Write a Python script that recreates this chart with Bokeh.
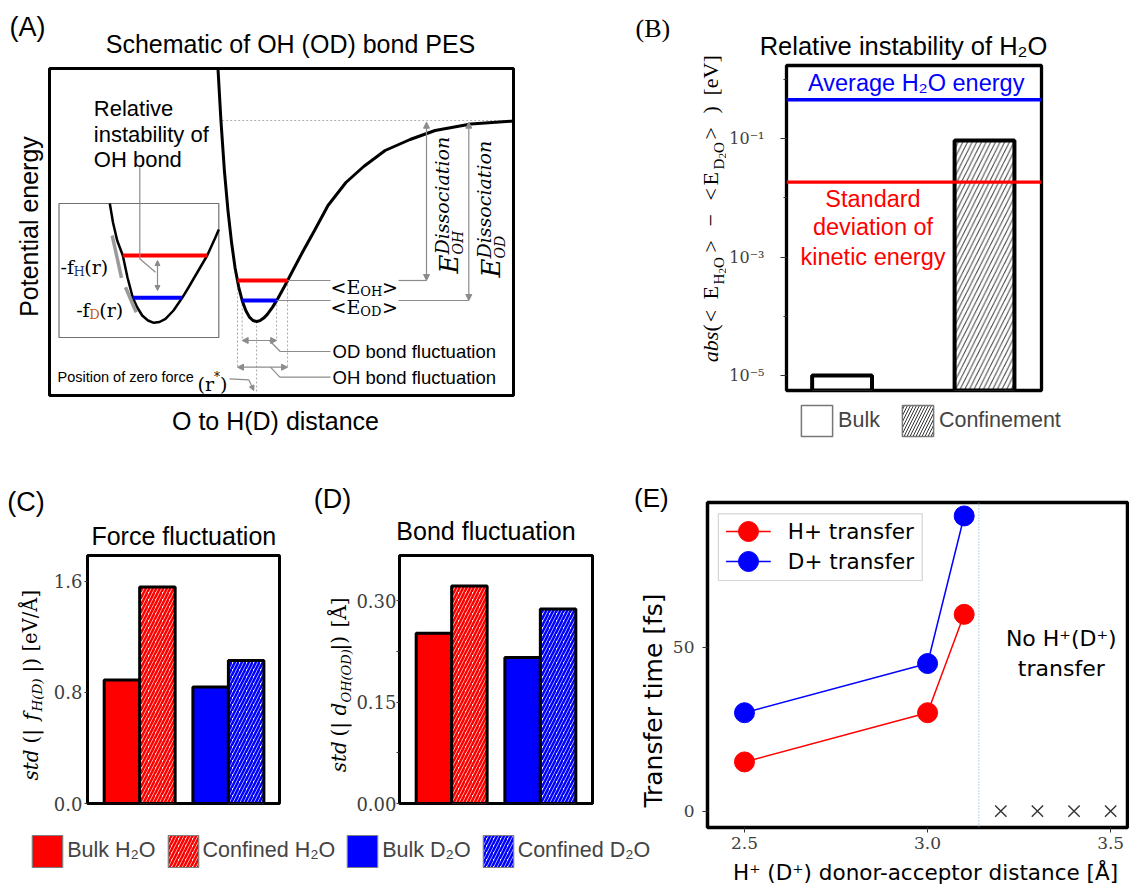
import numpy as np
from bokeh.plotting import figure
from bokeh.models import (Range1d, Label, Legend, LegendItem, Span, Arrow, NormalHead,
                          FixedTicker, ColumnDataSource, PrintfTickFormatter,
                          CustomJSTickFormatter)
from bokeh.layouts import row, column
from bokeh.embed import file_html
from bokeh.resources import INLINE
from bokeh.core.properties import value

# ====================== DATA ======================
# (A) schematic OH (OD) bond potential energy surface (arbitrary units)
pes_r = [168.5, 171.4, 174.9, 178.5, 182.1, 185.6, 189.2, 192.8, 196.4, 199.9,
         203.5, 207.1, 210.6, 214.2, 217.8, 223.1, 228.5, 235.6, 242.8, 253.5, 264.2,
         278.5, 296.4, 314.2, 335.6, 360.6, 385.6, 421.4, 464.0]
pes_E = [326.7, 275.5, 224.7, 184.7, 152.7, 127.5, 108.5, 94.5, 84.8, 78.4,
         75.0, 74.0, 74.9, 77.4, 81.1, 88.4, 97.2, 110.3, 124.0, 144.3, 163.6,
         190.0, 213.0, 229.0, 245.0, 256.0, 265.0, 271.5, 274.5]
inset_r = [60.3, 63.5, 67.7, 73.3, 78.0, 83.3, 87.5, 92.7, 98.5, 104.3, 110.0, 116.0,
           124.0, 132.7, 139.0, 146.0, 157.7, 166.0, 169.3]
inset_E = [192.0, 173.0, 155.0, 140.0, 118.0, 97.7, 88.5, 80.0, 75.0, 72.7, 73.5, 76.7,
           85.0, 97.7, 108.0, 120.0, 140.0, 158.3, 166.0]
level_E_OH = 115.0
level_E_OD = 95.0
level_dissociation = 275.0
inset_level_H = 140.0
inset_level_D = 97.7

# (B) relative instability of H2O
b_labels = ["Bulk", "Confinement"]
b_x = [0, 1]
b_values = [1.0e-5, 9.35e-2]
b_average_energy = 0.456
b_std_kinetic = 0.0185
b_ticks = [1e-5, 1e-3, 1e-1]
b_minor = [1e-4, 1e-2, 1.0]

# (C) / (D)
cd_labels = ["Bulk H\u2082O", "Confined H\u2082O", "Bulk D\u2082O", "Confined D\u2082O"]
cd_x = [0.0, 1.0, 2.5, 3.5]
force_fluct = [0.89, 1.56, 0.84, 1.03]
bond_fluct = [0.252, 0.322, 0.216, 0.288]
c_ticks = [0.0, 0.8, 1.6]
d_ticks = [0.0, 0.15, 0.30]
d_minor = [0.075, 0.225]

# (E) transfer time
e_distance = [2.5, 3.0, 3.1]
e_h_time = [15, 30, 60]
e_d_time = [30, 45, 90]
e_none_distance = [3.2, 3.3, 3.4, 3.5]
e_none_time = [0, 0, 0, 0]
e_cutoff = 3.14
e_xticks = [2.5, 3.0, 3.5]
e_yticks = [0, 50]

# ====================== STYLE / HELPERS ======================
SANS = "Liberation Sans"
SERIF = "DejaVu Serif"
TSERIF = "Liberation Serif"
DVS = "DejaVu Sans"
GRAY = "#8c8c8c"
RED = "#ff0000"
BLUE = "#0000ff"


def make_fig(w, h, l, r, t, b, xr, yr, **kw):
    p = figure(width=w, height=h, x_range=xr, y_range=yr, toolbar_location=None,
               output_backend="svg", min_border_left=l, min_border_right=r,
               min_border_top=t, min_border_bottom=b, frame_align=False, **kw)
    p.grid.visible = False
    p.outline_line_color = "black"
    p.outline_line_width = 3
    p.background_fill_color = "white"
    p.border_fill_color = "white"
    return p


def canvas(x0, y0, w, h):
    """A blank figure whose data coordinates are page pixels (y downward)."""
    p = figure(width=w, height=h, x_range=Range1d(x0, x0 + w), y_range=Range1d(y0 + h, y0),
               toolbar_location=None, output_backend="svg", min_border=0,
               x_axis_location=None, y_axis_location=None, frame_align=False)
    p.grid.visible = False
    p.outline_line_color = None
    p.background_fill_color = "white"
    p.border_fill_color = "white"
    return p


def lab(p, x, y, text, size, font=SANS, color="black", align="left",
        baseline="middle", angle=0, style="normal", units="data"):
    p.add_layout(Label(x=x, y=y, x_units=units, y_units=units, text=text, text_font=font,
                       text_font_size=f"{size}px", text_color=color, text_align=align,
                       text_baseline=baseline, angle=angle, angle_units="deg",
                       text_font_style=style))


def flab(p, fr, px, py, text, size, **kw):
    """Label inside an axis frame, given by page pixel position."""
    lab(p, px - fr[0], fr[1] - py, text, size, units="screen", **kw)


def vpieces(p, pieces, font):
    """Vertical (bottom-to-top) label made of pieces: (text, start_y, centre_x, size, style)."""
    for text, start_y, mid_x, size, style in pieces:
        lab(p, mid_x, start_y, text, size, font=font, baseline="middle",
            angle=90, style=style)


def arrow(p, x0, y0, x1, y1, both=True, size=6):
    def head():
        return NormalHead(size=size, fill_color=GRAY, line_color=GRAY, line_width=1)
    p.add_layout(Arrow(x_start=x0, y_start=y0, x_end=x1, y_end=y1,
                       start=head() if both else None, end=head(),
                       line_color=GRAY, line_width=1.2))


def crossings(level, r, E):
    i = int(np.argmin(E))
    rl, El = np.array(r[:i + 1]), np.array(E[:i + 1])
    rr, Er = np.array(r[i:]), np.array(E[i:])
    return (float(np.interp(level, El[::-1], rl[::-1])), float(np.interp(level, Er, rr)))


def style_axis(ax, font, size, tick_out, standoff):
    ax.axis_line_color = None
    ax.major_tick_line_color = "#333333"
    ax.minor_tick_line_color = "#333333"
    ax.major_tick_out = tick_out
    ax.major_tick_in = 0
    ax.minor_tick_out = 3
    ax.minor_tick_in = 0
    ax.major_label_text_font = font
    ax.major_label_text_font_size = f"{size}px"
    ax.major_label_text_color = "#404040"
    ax.major_label_standoff = standoff


# ====================== (A) ======================
pA = figure(width=560, height=450, x_range=Range1d(-49, 511), y_range=Range1d(-55, 395),
            toolbar_location=None, output_backend="svg", min_border=0,
            x_axis_location=None, y_axis_location=None, frame_align=False)
pA.grid.visible = False
pA.outline_line_color = None

pA.quad(left=[9.5], right=[169.3], bottom=[58], top=[192], fill_color=None,
        line_color="#707070", line_width=1.2)
pA.segment(x0=[172.7], x1=[464], y0=[level_dissociation], y1=[level_dissociation],
           line_color="#b0b0b0", line_width=1, line_dash="2 2")

ohL, ohR = crossings(level_E_OH, pes_r, pes_E)
odL, odR = crossings(level_E_OD, pes_r, pes_E)
imin = int(np.argmin(pes_E))
r_star, E_min = pes_r[imin], pes_E[imin]
ihL, ihR = crossings(inset_level_H, inset_r, inset_E)
idL, idR = crossings(inset_level_D, inset_r, inset_E)

pA.multi_line(xs=[[ohL, ohL], [ohR, ohR], [odL, odL], [odR, odR], [r_star, r_star]],
              ys=[[level_E_OH, 27], [level_E_OH, 27], [level_E_OD, 55], [level_E_OD, 55],
                  [E_min, 2]],
              line_color="#a8a8a8", line_width=1, line_dash="2 2")

pA.line(pes_r, pes_E, line_color="black", line_width=3, line_join="round")
pA.line(inset_r, inset_E, line_color="black", line_width=2.5, line_join="round")

pA.segment(x0=[ohL, ihL], x1=[ohR, ihR], y0=[level_E_OH, inset_level_H],
           y1=[level_E_OH, inset_level_H], line_color=RED, line_width=4)
pA.segment(x0=[odL, idL], x1=[odR, idR], y0=[level_E_OD, inset_level_D],
           y1=[level_E_OD, inset_level_D], line_color=BLUE, line_width=4)

pA.segment(x0=[62.7, 76.0], y0=[160.0, 108.3], x1=[72.0, 86.7], y1=[117.7, 83.3],
           line_color="#9a9a9a", line_width=3.5)

x_arr_OH, x_arr_OD = 377.0, 419.3
pA.multi_line(
    xs=[[ohR, 281], [349, x_arr_OH], [odR, 281], [349, x_arr_OD],
        [220, 230.7, 281], [221, 230.3, 281], [180, 199.3], [90.3, 90.3, 106]],
    ys=[[level_E_OH] * 2, [level_E_OH] * 2, [level_E_OD] * 2, [level_E_OD] * 2,
        [55, 44, 44], [28.3, 18.3, 18.3], [16.7, 15.7], [228.3, 136.7, 123.3]],
    line_color=GRAY, line_width=1.2)

arrow(pA, x_arr_OH, level_E_OH, x_arr_OH, level_dissociation - 1.7)
arrow(pA, x_arr_OD, level_E_OD, x_arr_OD, level_dissociation - 1.7)
arrow(pA, odL, 55, odR, 55)
arrow(pA, ohL, 28.3, ohR, 28.3)
arrow(pA, 108, 135, 108, 105, size=5)
arrow(pA, 199.3, 15.7, 204.3, 5, both=False, size=5)

pA.quad(left=[0], right=[464], bottom=[0], top=[327], fill_color=None,
        line_color="black", line_width=3)

lab(pA, -40, 369, "(A)", 27)
lab(pA, 241, 352, "Schematic of OH (OD) bond PES", 25, align="center")
lab(pA, -20.4, 169, "Potential energy", 25, align="center", angle=90)
lab(pA, 226, -25, "O to H(D) distance", 25, align="center")

lab(pA, 44.3, 286.7, "Relative", 22)
lab(pA, 44.3, 261.0, "instability of", 22)
lab(pA, 44.3, 235.7, "OH bond", 22)

lab(pA, 11.0, 129, "-f", 19, font=SERIF, baseline="alphabetic")
lab(pA, 24.1, 124, "H", 13, font=SERIF, baseline="alphabetic", color="#1f3c88")
lab(pA, 34.8, 129, "(r)", 19, font=SERIF, baseline="alphabetic")
lab(pA, 26.7, 86, "-f", 19, font=SERIF, baseline="alphabetic")
lab(pA, 39.8, 81, "D", 13, font=SERIF, baseline="alphabetic", color="#c55a11")
lab(pA, 49.8, 86, "(r)", 19, font=SERIF, baseline="alphabetic")

for lev, sub in ((level_E_OH, "OH"), (level_E_OD, "OD")):
    lab(pA, 281, lev - 6.5, "<E", 19, font=SERIF, baseline="alphabetic")
    lab(pA, 310.8, lev - 11, sub, 13, font=SERIF, baseline="alphabetic")
    lab(pA, 332.4, lev - 6.5, ">", 19, font=SERIF, baseline="alphabetic")

lab(pA, 283, 44, "OD bond fluctuation", 18.5)
lab(pA, 283, 18.3, "OH bond fluctuation", 18.5)
lab(pA, 8, 18.3, "Position of zero force", 14.5)
lab(pA, 148, 12, "(r", 19, font=SERIF, baseline="alphabetic")
lab(pA, 164.5, 19, "*", 12, font=SERIF, baseline="alphabetic")
lab(pA, 170.5, 12, ")", 19, font=SERIF, baseline="alphabetic")

for xe, xd, xs_, ye, yd, sub in ((399.6, 392, 408, 122, 141, "OH"),
                                  (441.6, 434, 450, 118, 137, "OD")):
    lab(pA, xe, ye, "E", 26, font=SERIF, style="italic", angle=90)
    lab(pA, xd, yd, "Dissociation", 19, font=SERIF, style="italic", angle=90)
    lab(pA, xs_, yd, sub, 14, font=SERIF, style="italic", angle=90)

# ====================== (B) ======================
bLeft = canvas(560, 0, 166, 450)
lab(bLeft, 635, 27.5, "(B)", 26, font=TSERIF)
B_label = [("abs", 361.7, 710, 22, "italic"), ("(", 331, 710, 22, "normal"),
           ("<", 321.7, 710, 22, "normal"), ("E", 299, 710, 22, "normal"),
           ("H", 284, 718, 15, "normal"), ("2", 273, 721.5, 11, "normal"),
           ("O", 267.5, 718, 15, "normal"), (">", 252, 710, 22, "normal"),
           ("\u2212", 226, 710, 22, "normal"), ("<", 200, 710, 22, "normal"),
           ("E", 185, 710, 22, "normal"), ("D", 169, 718, 15, "normal"),
           ("2", 158, 721.5, 11, "normal"), ("O", 152.5, 718, 15, "normal"),
           (">", 139, 710, 22, "normal"), (")", 113, 710, 22, "normal"),
           ("[eV]", 95, 710, 22, "normal")]
vpieces(bLeft, B_label, TSERIF)

bTitle = canvas(726, 0, 403, 60)
lab(bTitle, 903, 45, "Relative instability of H\u2082O", 25.5, align="center")

pB = make_fig(403, 335, 58, 88, 5, 5, Range1d(-0.39, 1.40),
              Range1d(10 ** -5.253, 10 ** 0.238), y_axis_type="log", x_axis_location=None)
frB = (784, 390)
pB.outline_line_width = 3.3
pB.vbar(x=[b_x[0]], top=[b_values[0]], bottom=1e-7, width=0.42, fill_color="white",
        line_color="black", line_width=4)
pB.vbar(x=[b_x[1]], top=[b_values[1]], bottom=1e-7, width=0.42, fill_color="white",
        hatch_pattern="/", hatch_color="#404040", hatch_scale=9.3, hatch_weight=1,
        line_color="black", line_width=4)
pB.add_layout(Span(location=b_average_energy, dimension="width", line_color=BLUE, line_width=3.3))
pB.add_layout(Span(location=b_std_kinetic, dimension="width", line_color=RED, line_width=3.3))
axB = pB.yaxis[0]
axB.ticker = FixedTicker(ticks=b_ticks, minor_ticks=b_minor)
axB.formatter = CustomJSTickFormatter(code="""
const e = Math.round(Math.log10(tick));
const sup = {"-5": "\\u207B\\u2075", "-4": "\\u207B\\u2074", "-3": "\\u207B\\u00B3",
             "-2": "\\u207B\\u00B2", "-1": "\\u207B\\u00B9", "0": "\\u2070"};
return "10" + (sup[String(e)] || "");
""")
style_axis(axB, SERIF, 16, 6, 16)
flab(pB, frB, 913.7, 82.7, "Average H\u2082O energy", 23.5, color=BLUE, align="center")
for txt_, yy in (("Standard", 198.3), ("deviation of", 226.7), ("kinetic energy", 256.7)):
    flab(pB, frB, 870.5, yy, txt_, 23.5, color=RED, align="center")

bLeg = canvas(726, 395, 403, 55)
nan = [np.nan]
rb1 = bLeg.quad(left=nan, right=nan, top=nan, bottom=nan, fill_color="white",
                line_color="#777777", line_width=1.5)
rb2 = bLeg.quad(left=nan, right=nan, top=nan, bottom=nan, fill_color="white",
                hatch_pattern="/", hatch_color="#333333", hatch_scale=6, hatch_weight=1,
                line_color="#777777", line_width=1.5)
bLeg.add_layout(Legend(items=[LegendItem(label=b_labels[0], renderers=[rb1]),
                              LegendItem(label=b_labels[1], renderers=[rb2])],
                       location=(71.1, 10.1), orientation="horizontal", glyph_width=39,
                       glyph_height=39, label_standoff=2, spacing=18, padding=0, margin=0,
                       border_line_color=None, background_fill_alpha=0,
                       label_text_font=SANS, label_text_font_size="21.5px"))

# ====================== (C) / (D) ======================
cd_fill = [RED, "white", BLUE, "white"]
cd_hatch = [" ", "/", " ", "/"]
cd_hcolor = [RED, RED, BLUE, BLUE]
H_SCALE, H_WEIGHT = 7, 2.6


def bar_panel(w, l, r, xr, yr, values, ticks, fmt, minor, standoff):
    p = make_fig(w, 280, l, r, 5, 27, xr, yr, x_axis_location=None)
    src = ColumnDataSource(dict(x=cd_x, top=values, fill=cd_fill, hatch=cd_hatch, hc=cd_hcolor))
    p.vbar(x="x", top="top", bottom=0, width=1.0, source=src, fill_color="fill",
           hatch_pattern="hatch", hatch_color="hc", hatch_scale=H_SCALE,
           hatch_weight=H_WEIGHT, line_color="black", line_width=3)
    ax = p.yaxis[0]
    ax.ticker = FixedTicker(ticks=ticks, minor_ticks=minor)
    ax.formatter = PrintfTickFormatter(format=fmt)
    style_axis(ax, SERIF, 18, 3, standoff)
    return p


cLeft = canvas(0, 450, 50, 380)
lab(cLeft, 6.7, 501, "(C)", 27)
C_label = [("std", 780, 30, 20, "italic"), ("(|", 743, 30, 20, "normal"),
           ("f", 720, 30, 20, "italic"), ("H(D)", 711, 36.5, 13.5, "italic"),
           ("|)", 672, 30, 20, "normal"), ("[eV/\u00c5]", 651, 30, 19.5, "normal")]
vpieces(cLeft, C_label, SERIF)
cTitle = canvas(50, 450, 245, 100)
lab(cTitle, 183.3, 535, "Force fluctuation", 25, align="center")
pC = bar_panel(245, 37, 16, Range1d(-0.97, 4.44), Range1d(0, 1.787), force_fluct,
               c_ticks, "%.1f", [], 2)

dLeft = canvas(295, 450, 58, 380)
lab(dLeft, 313.3, 498, "(D)", 27)
D_label = [("std", 771.7, 338, 20, "italic"), ("(|", 736, 338, 20, "normal"),
           ("d", 715, 338, 20, "italic"), ("OH(OD)", 702, 345.5, 13, "italic"),
           ("|)", 650, 338, 20, "normal"), ("[\u00c5]", 627, 338, 20, "normal")]
vpieces(dLeft, D_label, SERIF)
dTitle = canvas(353, 450, 279, 100)
lab(dTitle, 485.5, 530, "Bond fluctuation", 25, align="center")
pD = bar_panel(279, 46, 40, Range1d(-0.97, 4.47), Range1d(0, 0.367), bond_fluct,
               d_ticks, "%.2f", d_minor, 0)

eLeft = canvas(632, 450, 37, 380)
lab(eLeft, 633.5, 497.5, "(E)", 26)
lab(eLeft, 653, 700, "Transfer time [fs]", 25, font=DVS, align="center", angle=90)

cdLeg = canvas(0, 830, 669, 56)
leg_items = []
for lab_, fc, hp, hc in zip(cd_labels, cd_fill, cd_hatch, cd_hcolor):
    rr = cdLeg.quad(left=nan, right=nan, top=nan, bottom=nan, fill_color=fc,
                    hatch_pattern=hp, hatch_color=hc, hatch_scale=H_SCALE,
                    hatch_weight=H_WEIGHT, line_color="#7f7f7f", line_width=1.2)
    leg_items.append(LegendItem(label=lab_, renderers=[rr]))
cdLeg.add_layout(Legend(items=leg_items, location=(28.2, 15.3), orientation="horizontal",
                        glyph_width=38, glyph_height=40, label_standoff=1, spacing=8,
                        padding=0, margin=0, border_line_color=None,
                        background_fill_alpha=0, label_text_font=SANS,
                        label_text_font_size="21.5px"))

# ====================== (E) ======================
EX0, EX1, EY0, EY1 = 2.399, 3.546, -5.0, 94.1
pE = make_fig(460, 408, 33, 2, 52, 31, Range1d(EX0, EX1), Range1d(EY0, EY1))
pE.outline_line_width = 3.5


def e_xy(px, py):
    return (EX0 + (px - 702) / 425 * (EX1 - EX0), EY0 + (827 - py) / 325 * (EY1 - EY0))


pE.add_layout(Span(location=e_cutoff, dimension="height", line_color="#6fa8dc",
                   line_width=1, line_dash="1 2"))
pE.line(e_distance, e_h_time, line_color=RED, line_width=1.5)
pE.scatter(e_distance, e_h_time, size=20, fill_color=RED, line_color=RED)
pE.line(e_distance, e_d_time, line_color=BLUE, line_width=1.5)
pE.scatter(e_distance, e_d_time, size=20, fill_color=BLUE, line_color=BLUE)
pE.scatter(e_none_distance, e_none_time, marker="x", size=16, line_color="#333333",
           line_width=1.4)

axEx, axEy = pE.xaxis[0], pE.yaxis[0]
axEx.ticker = FixedTicker(ticks=e_xticks)
axEx.formatter = PrintfTickFormatter(format="%.1f")
axEy.ticker = FixedTicker(ticks=e_yticks)
axEy.formatter = PrintfTickFormatter(format="%d")
style_axis(axEx, SERIF, 17, 5, 4)
style_axis(axEy, SERIF, 17, 5, 8)
axEx.minor_tick_line_color = None
axEy.minor_tick_line_color = None

(lx0, ly0), (lx1, ly1) = e_xy(713, 580), e_xy(919.3, 513.3)
pE.quad(left=[lx0], right=[lx1], bottom=[ly0], top=[ly1], fill_color="white",
        fill_alpha=0.85, line_color="#d5d5d5", line_width=1.2)
for py, col, lab_ in ((531, RED, "H+ transfer"), (561, BLUE, "D+ transfer")):
    (ax0, ay), (ax1, _) = e_xy(720.7, py), e_xy(766, py)
    (mx, _), (tx, _) = e_xy(743.5, py), e_xy(783.3, py)
    pE.line([ax0, ax1], [ay, ay], line_color=col, line_width=1.5)
    pE.scatter([mx], [ay], size=20, fill_color=col, line_color=col)
    lab(pE, tx, ay, lab_, 21.5, font=DVS)

nx, ny1 = e_xy(1060, 638.3)
_, ny2 = e_xy(1060, 668.3)
lab(pE, nx, ny1, "No H\u207a(D\u207a)", 22, font=DVS, align="center")
lab(pE, nx, ny2, "transfer", 22, font=DVS, align="center")

eXl = canvas(669, 858, 460, 28)
lab(eXl, 925, 872, "H\u207a (D\u207a) donor-acceptor distance [\u00c5]", 21.5, font=DVS,
    align="center")

# ====================== LAYOUT ======================
top = row(pA, bLeft, column(bTitle, pB, bLeg))
cd_top = row(cLeft, column(cTitle, pC), dLeft, column(dTitle, pD), eLeft)
bottom = row(column(cd_top, cdLeg), column(pE, eXl))
layout = column(top, bottom)

with open("out.html", "w", encoding="utf-8") as f:
    f.write(file_html(layout, INLINE))
